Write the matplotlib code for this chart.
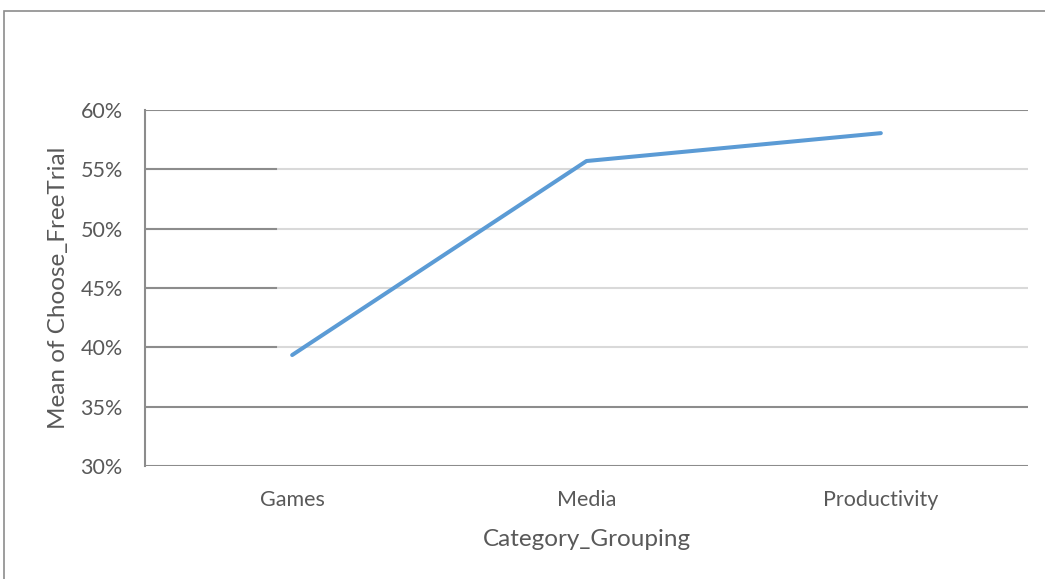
import matplotlib
matplotlib.use("Agg")
import matplotlib.pyplot as plt
from matplotlib.patches import Rectangle
from matplotlib.ticker import PercentFormatter

# data
categories = ["Games", "Media", "Productivity"]
mean_free_trial = [39.35, 55.7, 58.05]
y_ticks = [30, 35, 40, 45, 50, 55, 60]

text_col = "#595959"
plt.rcParams["font.family"] = ["Lato", "DejaVu Sans"]

fig = plt.figure(figsize=(10.45, 5.79), dpi=100)
fig.patch.set_facecolor("white")

# outer chart frame (runs off the right and bottom edges)
fig.patches.append(Rectangle((4 / 1045, -0.1), 1.2, 1 - 11 / 579 + 0.1,
                             transform=fig.transFigure, fill=False,
                             edgecolor="#8c8c8c", linewidth=1.2, clip_on=False))

ax = fig.add_axes([145 / 1045, 1 - 466 / 579, 883 / 1045, 356 / 579])

#gridlines: light over most of the width, darker near the left axis
for t in y_ticks:
    dark = t in (30, 35, 60)
    ax.plot([0, 1], [t, t], transform=ax.get_yaxis_transform(),
            color="#8c8c8c" if dark else "#d9d9d9", linewidth=1.5, zorder=1)
    if not dark:
        ax.plot([0, 0.148], [t, t], transform=ax.get_yaxis_transform(),
                color="#8c8c8c", linewidth=1.5, zorder=1)

x = list(range(len(categories)))
ax.plot(x, mean_free_trial, color="#5B9BD5", linewidth=2.9,
        solid_capstyle="round", solid_joinstyle="round", zorder=3)

ax.set_xlim(-0.5, len(categories) - 0.5)
ax.set_ylim(30, 60)
ax.set_yticks(y_ticks)
ax.yaxis.set_major_formatter(PercentFormatter(decimals=0))
ax.set_xticks(x)
ax.set_xticklabels(categories)

for side in ["top", "right", "bottom"]:
    ax.spines[side].set_visible(False)
ax.spines["left"].set_color("#8c8c8c")
ax.spines["left"].set_linewidth(1.5)
ax.tick_params(axis="both", length=0, labelsize=15.5, colors=text_col)
ax.tick_params(axis="y", pad=16)
ax.tick_params(axis="x", pad=17)

ax.set_xlabel("Category_Grouping", fontsize=17.5, color=text_col, labelpad=14)
ax.set_ylabel("Mean of Choose_FreeTrial", fontsize=17.5, color=text_col, labelpad=8)

fig.savefig("out.png", dpi=100)
